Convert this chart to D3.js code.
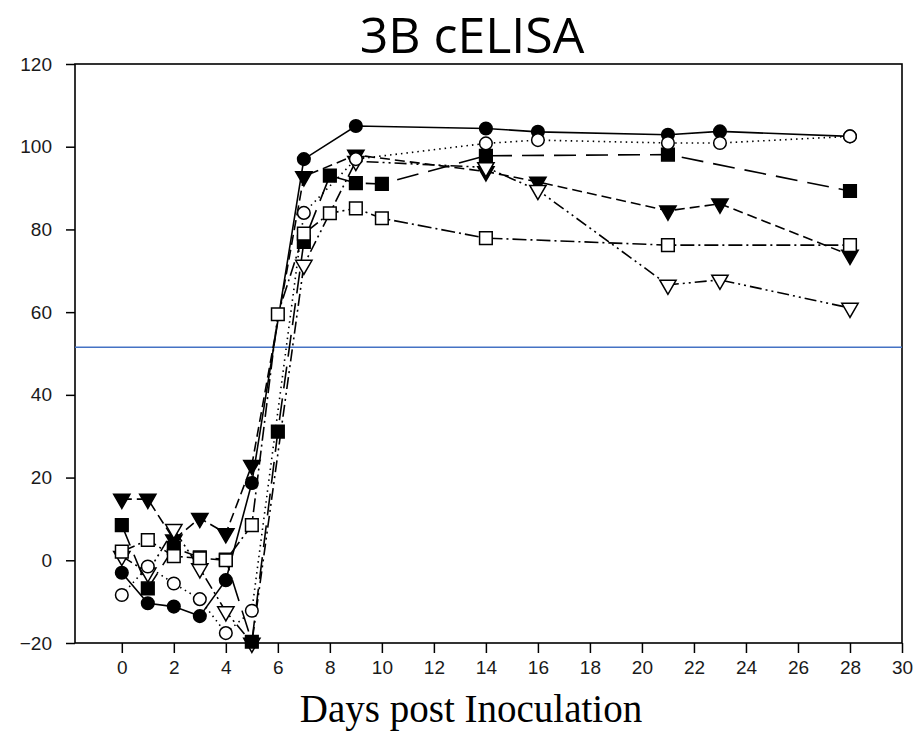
<!DOCTYPE html>
<html>
<head>
<meta charset="utf-8">
<script src="https://cdn.jsdelivr.net/npm/d3@7"></script>
<style>
  html, body { margin: 0; padding: 0; background: #fff; }
  svg { display: block; }
</style>
</head>
<body>
<svg id="chart" width="919" height="755"></svg>
<script>
// ---- data ----
const title = "3B cELISA";
const xLabel = "Days post Inoculation";
const xTicks = [0, 2, 4, 6, 8, 10, 12, 14, 16, 18, 20, 22, 24, 26, 28, 30];
const yTicks = [-20, 0, 20, 40, 60, 80, 100, 120];
const cutoff = 51.5;

const daysFilledCircle = [0, 1, 2, 3, 4, 5, 7, 9, 14, 16, 21, 23, 28];
const valsFilledCircle = [-3, -10.4, -11.2, -13.5, -4.8, 18.7, 97, 105, 104.4, 103.6, 102.9, 103.7, 102.5];

const daysOpenCircle = [0, 1, 2, 3, 4, 5, 7, 9, 14, 16, 21, 23, 28];
const valsOpenCircle = [-8.4, -1.5, -5.6, -9.4, -17.6, -12.2, 84, 97, 100.8, 101.6, 100.9, 100.9, 102.5];

const daysFilledTri = [0, 1, 2, 3, 4, 5, 7, 9, 14, 16, 21, 23, 28];
const valsFilledTri = [14.8, 14.8, 5, 10.2, 6.5, 23, 92.8, 98, 94, 91.5, 84.5, 86.2, 73.8];

const daysOpenTri = [0, 1, 2, 3, 4, 5, 7, 9, 14, 16, 21, 23, 28];
const valsOpenTri = [1, -3, 7.5, -2, -12.4, -20, 71.4, 96.5, 95, 89.5, 66.6, 67.8, 61];

const daysFilledSq = [0, 1, 2, 3, 4, 5, 6, 7, 8, 9, 10, 14, 21, 28];
const valsFilledSq = [8.5, -6.8, 3, 0.7, 0.2, -19.7, 31.1, 77, 93, 91.2, 91, 97.8, 98.1, 89.3];

const daysOpenSq = [0, 1, 2, 3, 4, 5, 6, 7, 8, 9, 10, 14, 21, 28];
const valsOpenSq = [2.1, 4.9, 1, 0.5, 0, 8.5, 59.5, 79, 83.9, 85.1, 82.7, 77.9, 76.2, 76.2];

const series = [
  { days: daysFilledTri, vals: valsFilledTri, shape: "triDown", fill: "#000", dash: "10,5" },
  { days: daysOpenTri, vals: valsOpenTri, shape: "triDown", fill: "#fff", dash: "12,4,2,4,2,4" },
  { days: daysFilledSq, vals: valsFilledSq, shape: "square", fill: "#000", dash: "22,10" },
  { days: daysOpenSq, vals: valsOpenSq, shape: "square", fill: "#fff", dash: "14,4,2,4" },
  { days: daysFilledCircle, vals: valsFilledCircle, shape: "circle", fill: "#000", dash: null },
  { days: daysOpenCircle, vals: valsOpenCircle, shape: "circle", fill: "#fff", dash: "1.5,4" }
];

// ---- layout ----
const L = 75, R = 902, T = 64, B = 643;
const svg = d3.select("#chart");
const x = d3.scaleLinear().domain([-1.8, 30]).range([L, R]);
const y = d3.scaleLinear().domain([-20, 120]).range([B, T]);

// title
svg.append("text")
  .attr("x", 472).attr("y", 53)
  .attr("text-anchor", "middle")
  .attr("font-family", "'Open Sans', 'Noto Sans', sans-serif")
  .attr("font-size", 50)
  .attr("fill", "#000")
  .text(title);

// axes
const yAxis = d3.axisLeft(y).tickValues(yTicks).tickSize(9).tickPadding(14).tickFormat(d3.format("d"));
const gy = svg.append("g").attr("transform", `translate(${L},0)`).call(yAxis);
const xAxis = d3.axisBottom(x).tickValues(xTicks).tickSize(10).tickPadding(8).tickFormat(d3.format("d"));
const gx = svg.append("g").attr("transform", `translate(0,${B})`).call(xAxis);
[gy, gx].forEach(g => {
  g.select(".domain").remove();
  g.selectAll(".tick line").attr("stroke", "#000").attr("stroke-width", 1.5);
  g.selectAll(".tick text")
    .attr("font-family", "'Liberation Sans', Arial, sans-serif")
    .attr("font-size", 19)
    .attr("fill", "#1a1a1a");
});

// box
svg.append("rect")
  .attr("x", L).attr("y", T).attr("width", R - L).attr("height", B - T)
  .attr("fill", "none").attr("stroke", "#000").attr("stroke-width", 1.6);

// cutoff line
svg.append("line")
  .attr("x1", L).attr("x2", R)
  .attr("y1", y(cutoff)).attr("y2", y(cutoff))
  .attr("stroke", "#4472C4").attr("stroke-width", 1.5);

// lines
const line = d3.line().x(d => x(d[0])).y(d => y(d[1]));
series.forEach(s => {
  const pts = s.days.map((d, i) => [d, s.vals[i]]);
  svg.append("path")
    .attr("d", line(pts))
    .attr("fill", "none")
    .attr("stroke", "#000")
    .attr("stroke-width", 1.6)
    .attr("stroke-dasharray", s.dash);
});

// markers
const symSize = { circle: 125, square: 160, triDown: 115 };
series.forEach(s => {
  const pts = s.days.map((d, i) => [d, s.vals[i]]);
  const g = svg.append("g");
  pts.forEach(p => {
    let type = s.shape === "circle" ? d3.symbolCircle : s.shape === "square" ? d3.symbolSquare : d3.symbolTriangle;
    const sym = d3.symbol().type(type).size(symSize[s.shape]);
    const rot = s.shape === "triDown" ? " rotate(180)" : "";
    g.append("path")
      .attr("d", sym())
      .attr("transform", `translate(${x(p[0])},${y(p[1])})${rot}`)
      .attr("fill", s.fill)
      .attr("stroke", "#000")
      .attr("stroke-width", 1.5);
  });
});

// x label
svg.append("text")
  .attr("x", 471).attr("y", 722)
  .attr("text-anchor", "middle")
  .attr("font-family", "'Liberation Serif', 'Times New Roman', serif")
  .attr("font-size", 39)
  .attr("fill", "#000")
  .text(xLabel);
</script>
</body>
</html>
